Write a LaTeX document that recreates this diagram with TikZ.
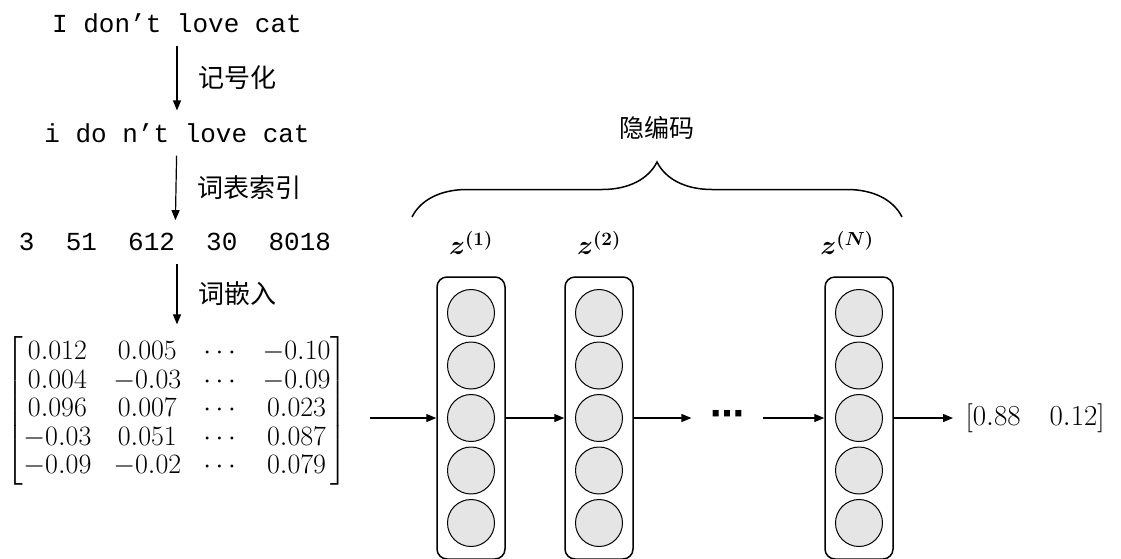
\RequirePackage{fix-cm}
\documentclass[tikz,border=0pt]{standalone}
\usepackage{fontspec}
\usepackage{amsmath,bm}
\setmonofont{Liberation Mono}
\newfontfamily\cjk{Noto Sans CJK SC}
\newfontfamily\dotsfont{DejaVu Sans}
\usetikzlibrary{arrows.meta,decorations.pathreplacing,positioning}
\tikzset{
  token/.style={font=\fontsize{26}{30}\selectfont\ttfamily, inner sep=0pt, outer sep=13pt},
  steplabel/.style={font=\fontsize{26}{30}\selectfont\cjk, anchor=west, xshift=18pt},
  layer/.style={draw, rounded corners=10pt, line width=1.5pt, minimum width=68pt, minimum height=282pt, inner sep=0pt},
  unit/.style={draw, circle, fill=gray!20, line width=1pt, minimum size=47pt, inner sep=0pt},
  zlabel/.style={font=\fontsize{27}{30}\selectfont},
}
\begin{document}
\begin{tikzpicture}[x=1pt,y=-1pt,>={Triangle[length=10pt,width=8pt]},line width=1.2pt]
\path[use as bounding box] (0,0) rectangle (1121,558);
\clip (0,0) rectangle (1121,558);
\node[token] (sent) at (177,23) {I don’t love cat};
\node[token] (tok) at (177,133) {i do n’t love cat};
\node[token] (idx) at (175,242) {3\ \ 51\ \ 612\ \ 30\ \ 8018};
\node[inner sep=0pt, outer sep=12pt, font=\fontsize{28}{28.5}\selectfont] (emb) at (177,411)
  {\setlength{\arraycolsep}{11pt}$\begin{bmatrix}
  0.012 & 0.005 & \cdots & -0.10\\
  0.004 & -0.03 & \cdots & -0.09\\
  0.096 & 0.007 & \cdots & 0.023\\
  -0.03 & 0.051 & \cdots & 0.087\\
  -0.09 & -0.02 & \cdots & 0.079
  \end{bmatrix}$};
\draw[->] (sent) -- (tok) node[midway, steplabel]{记号化};
\draw[->] (tok) -- (idx) node[midway, steplabel]{词表索引};
\draw[->] (idx.south -| emb) -- (emb) node[midway, steplabel]{词嵌入};
\foreach \lay/\x in {l1/471, l2/599, l3/859} {
  \node[layer] (\lay) at (\x,418) {};
  \foreach \i in {1,...,5}
    \node[unit] (\lay c\i) at (\x,{418+(\i-3)*52.5}) {};
}
\node[zlabel] (z1) at (471,243) {$\boldsymbol{z}^{\boldsymbol{(1)}}$};
\node[zlabel] (z2) at (599,243) {$\boldsymbol{z}^{\boldsymbol{(2)}}$};
\node[zlabel] (zN) at (847,243) {$\boldsymbol{z}^{\boldsymbol{(N)}}$};
\draw[decorate, decoration={brace, amplitude=55pt}, line width=1.5pt] (412,217) -- (902,217);
\node[font=\fontsize{25}{30}\selectfont\cjk] (code) at (657,128) {隐编码};
\node[minimum width=70pt, inner sep=0pt, font=\fontsize{34}{36}\selectfont\dotsfont\bfseries] (dots) at (727,418) {⋯};
\node[anchor=west, inner xsep=12pt, inner ysep=0pt, font=\fontsize{29}{30}\selectfont] (out) at (953,418) {$[0.88\quad 0.12]$};
\coordinate (in) at (370,418);
\draw[->] (in) -- (l1);
\draw[->] (l1) -- (l2);
\draw[->] (l2) -- (dots);
\draw[->] (dots) -- (l3);
\draw[->] (l3) -- (out);
\end{tikzpicture}
\end{document}
